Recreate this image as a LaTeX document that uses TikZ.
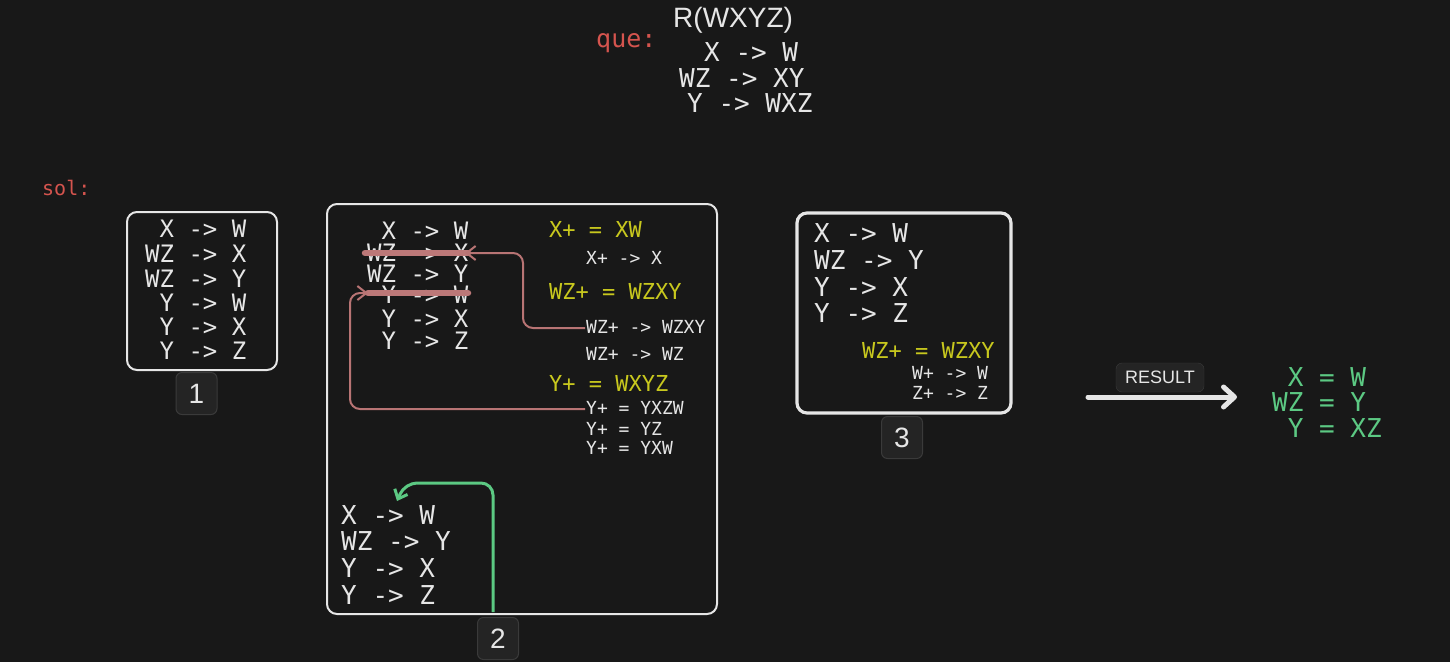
\documentclass[tikz,border=0pt]{standalone}
\usepackage{fontspec}
\usetikzlibrary{arrows.meta}
\newfontfamily\mono{DejaVu Sans Mono}
\newfontfamily\sansf{Liberation Sans}
\newcommand\fz[1]{\fontsize{#1}{#1}\selectfont}
\newcommand\ecell{\phantom{X}}
\definecolor{bg}{HTML}{181818}
\definecolor{fg}{HTML}{E6E6E6}
\definecolor{yel}{HTML}{C8C81E}
\definecolor{redq}{HTML}{D5544E}
\definecolor{pinkc}{HTML}{B87474}
\definecolor{strikec}{HTML}{BC7878}
\definecolor{grn}{HTML}{5CC983}
\definecolor{badgefill}{HTML}{242424}
\definecolor{badgeline}{HTML}{3A3A3A}
\begin{document}
\begin{tikzpicture}[x=1pt,y=-1pt,
  txt/.style={inner sep=0pt,anchor=base west,text=fg,font=\mono},
  big/.style={txt,font=\mono\fz{26},text height=19pt,text depth=0pt},
  mid/.style={txt,font=\mono\fz{24},text height=17.5pt,text depth=0pt},
  yl/.style={txt,text=yel,font=\mono\fz{22},text height=16pt,text depth=0pt},
  sm/.style={txt,font=\mono\fz{18},text height=13pt,text depth=0pt},
  gr/.style={txt,text=grn,font=\mono\fz{26},text height=19pt,text depth=0pt},
  frame/.style={draw=fg,line width=2pt,rounded corners=10pt,inner sep=0pt},
  badge/.style={draw=badgeline,fill=badgefill,line width=1pt,rounded corners=6pt,
    minimum width=41pt,minimum height=42pt,inner sep=0pt,text=fg,font=\sansf\fz{28}},
  pinkarrow/.style={draw=pinkc,line width=2pt,rounded corners=10pt,
    -{Straight Barb[length=9pt,width=14pt,line width=2pt]}},
  strike/.style={draw=strikec,line width=6.5pt,line cap=round},
]
\useasboundingbox[fill=bg] (0,0) rectangle (1450,662);

% question
\node[txt,font=\sansf\fz{28}] (title) at (673,27) {R(WXYZ)};
\node[txt,text=redq,font=\mono\fz{25}] (que) at (596,47) {que:};
\node[big] (q1) at (704,61.5) {X -> W};
\node[big] (q2) at (679,87.5) {WZ -> XY};
\node[big] (q3) at (687,112.5) {Y -> WXZ};

\node[txt,text=redq,font=\mono\fz{20}] (sol) at (42,195) {sol:};

% box 1
\node[frame,minimum width=150pt,minimum height=158pt] (b1) at (202,291) {};
\node[mid] (b1l1) at (145,237) {\ecell X -> W};
\node[mid] (b1l2) at (145,262) {WZ -> X};
\node[mid] (b1l3) at (145,287) {WZ -> Y};
\node[mid] (b1l4) at (145,311) {\ecell Y -> W};
\node[mid] (b1l5) at (145,335) {\ecell Y -> X};
\node[mid] (b1l6) at (145,359) {\ecell Y -> Z};
\node[badge] (n1) at (196.5,393.5) {1};

% box 2
\node[frame,minimum width=390pt,minimum height=410pt] (b2) at (522,409) {};
\node[mid] (b2l1) at (367,239) {\ecell X -> W};
\node[mid] (b2l2) at (367,261) {WZ -> X};
\node[mid] (b2l3) at (367,282) {WZ -> Y};
\node[mid] (b2l4) at (367,303) {\ecell Y -> W};
\node[mid] (b2l5) at (367,327) {\ecell Y -> X};
\node[mid] (b2l6) at (367,349) {\ecell Y -> Z};

\node[yl] (y1) at (549,237) {X+ = XW};
\node[yl] (y2) at (549,299) {WZ+ = WZXY};
\node[yl] (y3) at (549,391) {Y+ = WXYZ};
\node[sm] (s1) at (586,264.5) {X+ -> X};
\node[sm] (s2) at (586,333.5) {WZ+ -> WZXY};
\node[sm] (s3) at (586,360.5) {WZ+ -> WZ};
\node[sm] (s4) at (586,414) {Y+ = YXZW};
\node[sm] (s5) at (586,435.5) {Y+ = YZ};
\node[sm] (s6) at (586,454) {Y+ = YXW};

\node[big] (c1) at (341,524.5) {X -> W};
\node[big] (c2) at (341,550.5) {WZ -> Y};
\node[big] (c3) at (341,577.5) {Y -> X};
\node[big] (c4) at (341,604.5) {Y -> Z};
\node[badge] (n2) at (498,638.5) {2};

% strikes
\coordinate (k1a) at (365,253); \coordinate (k1b) at (468,253);
\coordinate (k2a) at (368,293); \coordinate (k2b) at (468,293);
\draw[strike] (k1a) -- (k1b);
\draw[strike] (k2a) -- (k2b);

% pink connectors
\coordinate (p1s) at (585,328); \coordinate (p1e) at (465,253);
\draw[pinkarrow] (p1s) -- (523,328) -- (523,253) -- (p1e);
\coordinate (p2s) at (585,409); \coordinate (p2e) at (368,293);
\draw[pinkarrow] (p2s) -- (350,409) -- (350,293) -- (p2e);

% green connector
\coordinate (g0) at (493,612); \coordinate (g1) at (397,501);
\draw[draw=grn,line width=3pt,rounded corners=12pt,
  -{Straight Barb[length=8pt,width=14pt,line width=3pt]}]
  (g0) -- (493,483) -- (405,483) -- (g1);

% box 3
\node[frame,line width=3.2pt,minimum width=214pt,minimum height=200pt] (b3) at (904,313) {};
\node[big] (d1) at (814,242.5) {X -> W};
\node[big] (d2) at (814,269.5) {WZ -> Y};
\node[big] (d3) at (814,296.5) {Y -> X};
\node[big] (d4) at (814,322.5) {Y -> Z};
\node[yl] (d5) at (862,358) {WZ+ = WZXY};
\node[sm] (d6) at (912,379.5) {W+ -> W};
\node[sm] (d7) at (912,399.5) {Z+ -> Z};
\node[badge] (n3) at (902,437.5) {3};

% result arrow
\coordinate (r0) at (1088,397); \coordinate (r1) at (1237,397);
\draw[draw=fg,line width=5pt,line cap=round,
  -{Straight Barb[length=11pt,width=20pt,line width=5pt,round]}] (r0) -- (r1);
\node[draw=badgeline,fill=badgefill,rounded corners=6pt,minimum width=88pt,
  minimum height=29pt,inner sep=0pt,text=fg,font=\sansf\fz{18}] (rl) at (1160,377.5) {RESULT};

\node[gr] (e1) at (1272,386.5) {\ecell X = W};
\node[gr] (e2) at (1272,411.5) {WZ = Y};
\node[gr] (e3) at (1272,437.5) {\ecell Y = XZ};
\end{tikzpicture}
\end{document}
